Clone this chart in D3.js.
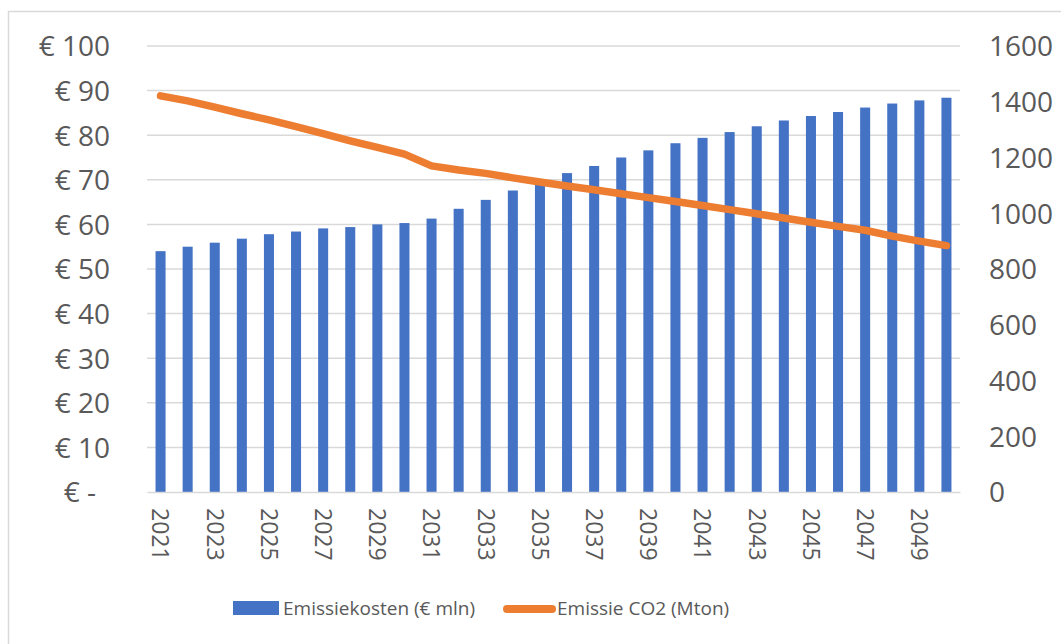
<!DOCTYPE html>
<html>
<head>
<meta charset="utf-8">
<script src="https://cdn.jsdelivr.net/npm/d3@7"></script>
<style>
  html, body { margin: 0; padding: 0; background: #fff; }
  svg { display: block; }
  text { font-family: "Open Sans", Lato, sans-serif; fill: #595959; }
</style>
</head>
<body>
<svg id="chart" width="1061" height="644"></svg>
<script>
const years = d3.range(2021, 2051);
const costs = [54.0, 55.0, 55.9, 56.8, 57.8, 58.4, 59.1, 59.4, 60.0, 60.3,
               61.3, 63.5, 65.5, 67.6, 69.6, 71.5, 73.1, 75.0, 76.6, 78.2,
               79.4, 80.7, 82.0, 83.3, 84.3, 85.2, 86.2, 87.1, 87.8, 88.4];
const emissions = [1421, 1403, 1381, 1357, 1335, 1311, 1286, 1260, 1236, 1212,
                   1170, 1155, 1143, 1127, 1112, 1098, 1084, 1070, 1056, 1042,
                   1028, 1013, 998, 983, 968, 953, 939, 918, 900, 884];
const leftTicks = [0, 10, 20, 30, 40, 50, 60, 70, 80, 90, 100];
const rightTicks = [0, 200, 400, 600, 800, 1000, 1200, 1400, 1600];
const xTickYears = years.filter((y, i) => i % 2 === 0);
const seriesNames = ["Emissiekosten (€ mln)", "Emissie CO2 (Mton)"];

(function () {
const svg = d3.select("#chart");
const pLeft = 147, pRight = 960, pTop = 46, pBottom = 492;

// outer chart border
svg.append("rect").attr("x", 8.5).attr("y", 11.5).attr("width", 1200).attr("height", 800)
  .attr("fill", "#fff").attr("stroke", "#d9d9d9").attr("stroke-width", 1.5);

const x = d3.scaleBand().domain(years).range([pLeft, pRight]).paddingInner(0.63).paddingOuter(0.315);
const yL = d3.scaleLinear().domain([0, 100]).range([pBottom, pTop]);
const yR = d3.scaleLinear().domain([0, 1600]).range([pBottom, pTop]);

// gridlines
svg.append("g").selectAll("line").data(leftTicks.filter(d => d > 0)).join("line")
  .attr("x1", pLeft).attr("x2", pRight)
  .attr("y1", d => yL(d)).attr("y2", d => yL(d))
  .attr("stroke", "#d9d9d9").attr("stroke-width", 1.5);

// left axis
const axL = svg.append("g").attr("transform", `translate(110,0)`)
  .call(d3.axisLeft(yL).tickValues(leftTicks).tickSize(0).tickPadding(0)
    .tickFormat(d => d === 0 ? "€ -" : "€ " + d));
axL.select(".domain").remove();
axL.selectAll("text").attr("font-size", 28).attr("font-family", "'Open Sans', sans-serif")
  .attr("fill", "#595959").attr("dy", "0.35em")
  .attr("dx", d => d === 0 ? -14 : 0);

// right axis
const axR = svg.append("g").attr("transform", `translate(989,0)`)
  .call(d3.axisRight(yR).tickValues(rightTicks).tickSize(0).tickPadding(0).tickFormat(d3.format("d")));
axR.select(".domain").remove();
axR.selectAll("text").attr("font-size", 28).attr("font-family", "'Open Sans', sans-serif")
  .attr("fill", "#595959").attr("dy", "0.35em");

// bars
svg.append("g").selectAll("rect").data(years).join("rect")
  .attr("x", d => x(d)).attr("width", x.bandwidth())
  .attr("y", (d, i) => yL(costs[i])).attr("height", (d, i) => pBottom - yL(costs[i]))
  .attr("fill", "#4472C4");

// bottom axis
const axB = svg.append("g").attr("transform", `translate(0,${pBottom})`)
  .call(d3.axisBottom(x).tickValues(xTickYears).tickSize(0).tickPadding(0));
axB.select(".domain").attr("stroke", "#d9d9d9").attr("stroke-width", 1.5);
axB.selectAll("text").attr("font-size", 23).attr("font-family", "'Open Sans', sans-serif")
  .attr("fill", "#595959")
  .attr("text-anchor", "start")
  .attr("transform", "translate(0,16) rotate(90)")
  .attr("dy", "0.35em").attr("y", 0).attr("x", 0);

// line
const line = d3.line()
  .x((d, i) => x(years[i]) + x.bandwidth() / 2)
  .y(d => yR(d));
svg.append("path").datum(emissions).attr("d", line)
  .attr("fill", "none").attr("stroke", "#ED7D31").attr("stroke-width", 7.5)
  .attr("stroke-linejoin", "round").attr("stroke-linecap", "round");

// legend
const lg = svg.append("g");
lg.append("rect").attr("x", 233).attr("y", 601).attr("width", 46).attr("height", 14).attr("fill", "#4472C4");
lg.append("text").attr("x", 283).attr("y", 608).attr("dy", "0.35em")
  .attr("font-size", 19).text(seriesNames[0]);
lg.append("line").attr("x1", 507).attr("x2", 552).attr("y1", 609).attr("y2", 609)
  .attr("stroke", "#ED7D31").attr("stroke-width", 8).attr("stroke-linecap", "round");
lg.append("text").attr("x", 557).attr("y", 608).attr("dy", "0.35em")
  .attr("font-size", 19).text(seriesNames[1]);
})();
</script>
</body>
</html>
